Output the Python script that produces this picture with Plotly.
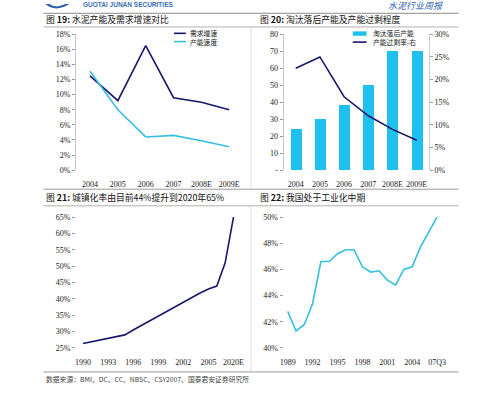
import plotly.graph_objects as go

W, H = 499, 396

def px(x):
    return x / W

def py(y):
    return 1 - y / H

# ---------------- data ----------------
c1_years = ["2004", "2005", "2006", "2007", "2008E", "2009E"]
c1_demand = [12.5, 9.2, 16.5, 9.6, 9.0, 8.0]
c1_capacity = [13.1, 8.0, 4.4, 4.6, 3.9, 3.1]

c2_years = ["2004", "2005", "2006", "2007", "2008E", "2009E"]
c2_eliminated = [24, 30, 38, 50, 70, 70]
c2_overcap = [22.5, 25.0, 16.2, 12.0, 9.0, 6.6]

c3_years = ["1990", "1991", "1992", "1993", "1994", "1995", "1996", "1997", "1998",
            "1999", "2000", "2001", "2002", "2003", "2004", "2005", "2006", "2010E", "2020E"]
c3_urban = [26.4, 26.9, 27.5, 28.0, 28.5, 29.0, 30.5, 31.9, 33.4,
            34.8, 36.2, 37.7, 39.1, 40.5, 41.8, 43.0, 43.9, 51.0, 65.0]

c4_years = ["1989", "1990", "1991", "1992", "1993", "1994", "1995", "1996", "1997",
            "1998", "1999", "2000", "2001", "2002", "2003", "2004", "2005", "2006", "07Q3"]
c4_industry = [42.8, 41.3, 41.8, 43.4, 46.6, 46.6, 47.2, 47.5, 47.5,
               46.2, 45.8, 45.9, 45.2, 44.8, 46.0, 46.2, 47.7, 48.8, 50.0]

NAVY = "#17176b"
CYAN = "#35bfe0"
BAR = "#1ec0ee"
TICKFONT = dict(family="Liberation Serif", size=8, color="#222")
CJK = "Noto Sans CJK SC"

fig = go.Figure()

fig.add_trace(go.Scatter(x=c1_years, y=c1_demand, mode="lines", line=dict(color=NAVY, width=1.6),
                         xaxis="x", yaxis="y", showlegend=False))
fig.add_trace(go.Scatter(x=c1_years, y=c1_capacity, mode="lines", line=dict(color=CYAN, width=1.6),
                         xaxis="x", yaxis="y", showlegend=False))

fig.add_trace(go.Bar(x=c2_years, y=c2_eliminated, marker=dict(color=BAR, line=dict(width=0)),
                     width=0.45, xaxis="x2", yaxis="y2", showlegend=False))
fig.add_trace(go.Scatter(x=c2_years, y=c2_overcap, mode="lines", line=dict(color=NAVY, width=1.6),
                         xaxis="x2", yaxis="y5", showlegend=False))

fig.add_trace(go.Scatter(x=c3_years, y=c3_urban, mode="lines", line=dict(color=NAVY, width=1.6),
                         xaxis="x3", yaxis="y3", showlegend=False))

fig.add_trace(go.Scatter(x=c4_years, y=c4_industry, mode="lines", line=dict(color=CYAN, width=1.6),
                         xaxis="x4", yaxis="y4", showlegend=False))

AXCOL = "#c8c8c8"

def xax(dom, anchor, rng, tickvals=None):
    d = dict(domain=dom, anchor=anchor, type="category", range=rng, showgrid=False, zeroline=False,
             showline=False, ticks="outside", ticklen=6, tickcolor="rgba(0,0,0,0)",
             tickfont=TICKFONT, fixedrange=True)
    if tickvals is not None:
        d["tickvals"] = tickvals
        d["ticktext"] = tickvals
    return d

def yax(dom, anchor, rng, vals, text, showline=True, side="left", overlaying=None):
    d = dict(domain=dom, anchor=anchor, range=rng, showgrid=False, zeroline=False,
             showline=showline, linecolor=AXCOL, linewidth=1, ticks="outside", ticklen=3,
             tickcolor="#999", tickvals=vals, ticktext=text, tickfont=TICKFONT, side=side,
             fixedrange=True)
    if overlaying:
        d["overlaying"] = overlaying
    return d

top_y = [py(170), py(31)]
bot_y = [py(352), py(218)]

layout = dict(
    width=W, height=H, margin=dict(l=0, r=0, t=0, b=0),
    paper_bgcolor="white", plot_bgcolor="rgba(0,0,0,0)",
    xaxis=xax([px(73), px(242)], "y", [-0.5, 5.5]),
    yaxis=yax(top_y, "x", [0, 18], [0, 2, 4, 6, 8, 10, 12, 14, 16, 18],
              [f"{v}%" for v in [0, 2, 4, 6, 8, 10, 12, 14, 16, 18]]),
    xaxis2=xax([px(283), px(430)], "y2", [-0.5, 5.5]),
    yaxis2=yax(top_y, "x2", [0, 80], [0, 10, 20, 30, 40, 50, 60, 70, 80],
               ["-", "10", "20", "30", "40", "50", "60", "70", "80"]),
    yaxis5=yax(top_y, "x2", [0, 30], [0, 5, 10, 15, 20, 25, 30],
               [f"{v}%" for v in [0, 5, 10, 15, 20, 25, 30]], side="right", overlaying="y2"),
    xaxis3=xax([px(73), px(245)], "y3", [-0.83, 19.5], tickvals=c3_years[::3]),
    yaxis3=yax(bot_y, "x3", [25, 65], [25, 30, 35, 40, 45, 50, 55, 60, 65],
               [f"{v}%" for v in [25, 30, 35, 40, 45, 50, 55, 60, 65]], showline=False),
    xaxis4=xax([px(283), px(445)], "y4", [-0.5, 18.8], tickvals=c4_years[::3]),
    yaxis4=yax(bot_y, "x4", [40, 50], [40, 42, 44, 46, 48, 50],
               [f"{v}%" for v in [40, 42, 44, 46, 48, 50]], showline=False),
    bargap=0,
)
fig.update_layout(**layout)
fig.update_xaxes(tickangle=0)

shapes = []
annotations = []

def hline(y, x0=40, x1=460, color="#9a9a9a", w=1):
    shapes.append(dict(type="line", xref="paper", yref="paper", x0=px(x0), x1=px(x1),
                       y0=py(y), y1=py(y), line=dict(color=color, width=w)))

def vline(x, y0, y1, color="#dcdcdc", w=1):
    shapes.append(dict(type="line", xref="paper", yref="paper", x0=px(x), x1=px(x),
                       y0=py(y0), y1=py(y1), line=dict(color=color, width=w)))

def text(x, y, s, size=8, color="#222", family=CJK, xanchor="left", yanchor="middle"):
    annotations.append(dict(xref="paper", yref="paper", x=px(x), y=py(y), text=s, showarrow=False,
                            xanchor=xanchor, yanchor=yanchor, align="left",
                            font=dict(family=family, size=size, color=color)))

# header
hline(9.5, 40, 460, "#8a8a8a", 1)
shapes.append(dict(type="path", xref="paper", yref="paper",
                   path=f"M {px(42)},{py(0)} Q {px(52)},{py(9)} {px(66)},{py(0)} L {px(62)},{py(0)} Q {px(52)},{py(5)} {px(46)},{py(0)} Z",
                   fillcolor="#2a5caa", line=dict(width=0)))
text(78, 0, "<b>GUOTAI JUNAN SECURITIES</b>", size=6.5, color="#3a6fb8", family="Liberation Sans")
text(446, 1.5, "<i>水泥行业周报</i>", size=9, color="#2f64b0", xanchor="right")

# title rows
text(40, 15.5, "图 <b>19:</b> 水泥产能及需求增速对比", size=8.8, color="#111")
text(257, 15.5, "图 <b>20:</b> 淘汰落后产能及产能过剩程度", size=8.8, color="#111")
hline(23.5, 40, 460, "#b0b0b0", 1)
hline(189.5, 40, 460, "#9a9a9a", 1)
text(40, 198.5, "图 <b>21:</b> 城镇化率由目前44%提升到2020年65%", size=8.8, color="#111")
text(257, 198.5, "图 <b>22:</b> 我国处于工业化中期", size=8.8, color="#111")
hline(206.5, 40, 460, "#b0b0b0", 1)
vline(250, 23.5, 189.5)
vline(250, 206.5, 376)
hline(376.5, 40, 460, "#9a9a9a", 1)
text(40, 384, "数据来源：BMI、DC、CC、NBSC、CSY2007、国泰君安证券研究所", size=6.8, color="#444")

# legends
shapes.append(dict(type="line", xref="paper", yref="paper", x0=px(172), x1=px(184), y0=py(30), y1=py(30),
                   line=dict(color=NAVY, width=1.6)))
shapes.append(dict(type="line", xref="paper", yref="paper", x0=px(172), x1=px(184), y0=py(38.5), y1=py(38.5),
                   line=dict(color=CYAN, width=1.6)))
text(186, 34.5, "需求增速<br>产能速度", size=6.8)

shapes.append(dict(type="rect", xref="paper", yref="paper", x0=px(353), x1=px(367), y0=py(32.5), y1=py(28),
                   fillcolor=BAR, line=dict(width=0)))
shapes.append(dict(type="line", xref="paper", yref="paper", x0=px(353), x1=px(367), y0=py(39), y1=py(39),
                   line=dict(color=NAVY, width=1.6)))
text(371, 34.5, "淘汰落后产能<br>产能过剩率-右", size=6.8)

fig.update_layout(shapes=shapes, annotations=annotations)
fig.write_html("out.html", config={"displayModeBar": False},
               post_script="document.body.style.margin='0';document.body.style.overflow='hidden';")
